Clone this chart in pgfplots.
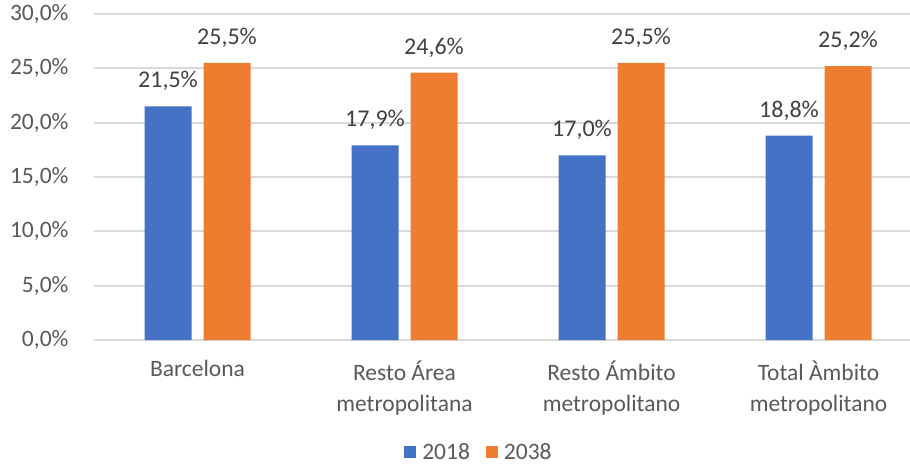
\documentclass[border=0pt]{standalone}
\usepackage{pgfplots}
\pgfplotsset{compat=1.18}
\usepackage{fontspec}
\setmainfont{Carlito}
\definecolor{c2018}{HTML}{4472C4}
\definecolor{c2038}{HTML}{ED7D31}
\definecolor{gridc}{HTML}{D9D9D9}
\definecolor{lblc}{HTML}{595959}
\definecolor{valc}{HTML}{404040}
\begin{document}
\begin{tikzpicture}
\useasboundingbox (-94pt,-126pt) rectangle (816pt,340pt);
\begin{axis}[
    scale only axis, width=815.6pt, height=326pt,
    at={(0pt,0pt)}, anchor=south west,
    xmin=-0.5, xmax=3.44, ymin=0, ymax=30,
    ybar=12pt, bar width=47pt,
    axis line style={draw=none},
    major tick length=0pt,
    ymajorgrids, grid style={gridc, line width=1.8pt},
    ytick={0,5,...,30},
    xtick={0,1,2,3},
    xticklabels={Barcelona, {Resto Área\\metropolitana}, {Resto Ámbito\\metropolitano}, {Total Àmbito\\metropolitano}},
    /pgf/number format/assume math mode=true,
    yticklabel={\pgfmathprintnumber[fixed,fixed zerofill,precision=1,use comma]{\tick}\%},
    yticklabel style={font=\fontsize{23.5}{28}\selectfont, text=lblc, xshift=-22pt},
    xticklabel style={font=\fontsize{23.5}{31}\selectfont, text=lblc, align=center, yshift=-17pt},
    nodes near coords={\pgfmathprintnumber[fixed,fixed zerofill,precision=1,use comma]{\pgfplotspointmeta}\%},
    every node near coord/.append style={font=\fontsize{24}{28}\selectfont, text=valc, yshift=12pt},
    legend columns=2,
    legend style={at={(0.472,-0.344)}, anchor=center, draw=none, fill=none,
        font=\fontsize{23.5}{28}\selectfont, text=lblc,
        /tikz/every odd column/.append style={column sep=4pt},
        /tikz/every even column/.append style={column sep=14pt}},
    legend image code/.code={\fill[#1] (0pt,-6pt) rectangle (12pt,6pt);},
]
\addplot[fill=c2018, draw=none] coordinates {(0,21.5) (1,17.9) (2,17.0) (3,18.8)};
\addlegendentry{2018}
\addplot[fill=c2038, draw=none] coordinates {(0,25.5) (1,24.6) (2,25.5) (3,25.2)};
\addlegendentry{2038}
\end{axis}
\end{tikzpicture}
\end{document}
